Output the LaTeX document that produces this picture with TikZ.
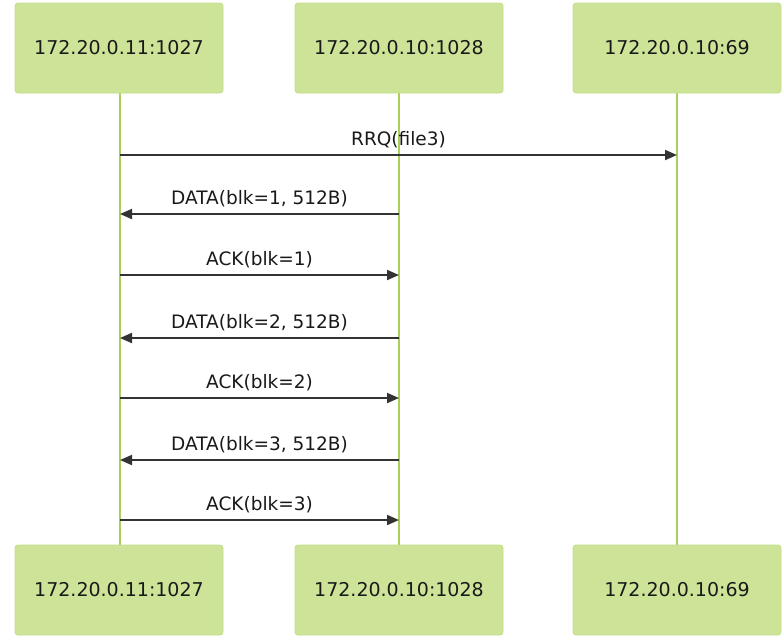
\documentclass[tikz,border=0pt]{standalone}
\usepackage{fontspec}
\setmainfont{DejaVu Sans}
\usetikzlibrary{arrows.meta}
\definecolor{actfill}{HTML}{CDE498}
\definecolor{actdraw}{HTML}{C2DC8A}
\definecolor{lifec}{HTML}{A9D05C}
\definecolor{msgc}{HTML}{333333}
\tikzset{
  x=1pt, y=-1pt,
  actor/.style={draw=actdraw, line width=0.8pt, fill=actfill, rounded corners=3pt,
    minimum width=208pt, minimum height=90pt, inner sep=0pt,
    font=\fontsize{19}{22}\selectfont, text=black!90},
  life/.style={draw=lifec, line width=1.8pt},
  msg/.style={draw=msgc, line width=1.9pt, -{Triangle[length=12pt,width=10pt]}},
  lbl/.style={font=\fontsize{18.5}{21}\selectfont, text=black!90, inner sep=0pt, anchor=base},
}
\begin{document}
\begin{tikzpicture}
\useasboundingbox (0,0) rectangle (784,638);
% lifelines
\draw[life] (120,93) -- (120,546);
\draw[life] (399,93) -- (399,546);
\draw[life] (677,93) -- (677,546);
% actors
\node[actor] (tA) at (119,48) {172.20.0.11:1027};
\node[actor] (tB) at (399,48) {172.20.0.10:1028};
\node[actor] (tC) at (677,48) {172.20.0.10:69};
\node[actor] (bA) at (119,590) {172.20.0.11:1027};
\node[actor] (bB) at (399,590) {172.20.0.10:1028};
\node[actor] (bC) at (677,590) {172.20.0.10:69};
% message anchors
\foreach \n/\y in {1/155,2/214,3/275,4/338,5/398,6/460,7/520}{
  \coordinate (a\n) at (120,\y);
  \coordinate (b\n) at (399,\y);
  \coordinate (c\n) at (677,\y);
}
\draw[msg] (a1) -- (c1) node[lbl, midway, yshift=10pt] {RRQ(file3)};
\draw[msg] (b2) -- (a2) node[lbl, midway, yshift=10pt] {DATA(blk=1, 512B)};
\draw[msg] (a3) -- (b3) node[lbl, midway, yshift=10pt] {ACK(blk=1)};
\draw[msg] (b4) -- (a4) node[lbl, midway, yshift=10pt] {DATA(blk=2, 512B)};
\draw[msg] (a5) -- (b5) node[lbl, midway, yshift=10pt] {ACK(blk=2)};
\draw[msg] (b6) -- (a6) node[lbl, midway, yshift=10pt] {DATA(blk=3, 512B)};
\draw[msg] (a7) -- (b7) node[lbl, midway, yshift=10pt] {ACK(blk=3)};
\end{tikzpicture}
\end{document}
